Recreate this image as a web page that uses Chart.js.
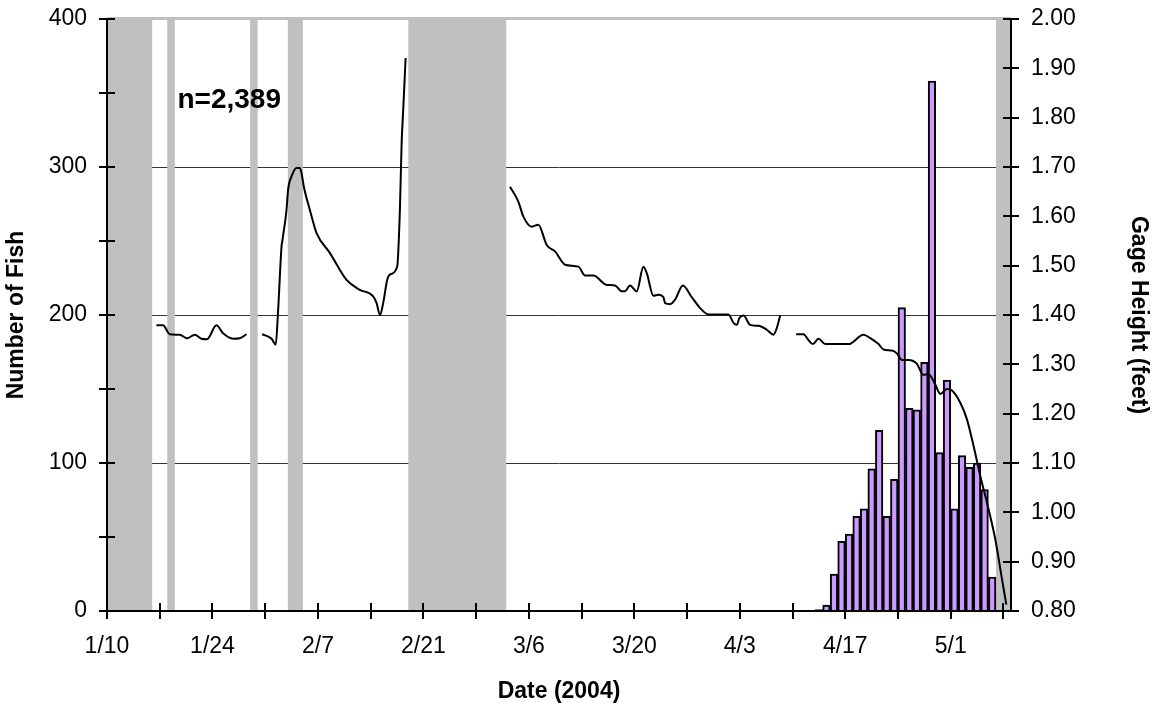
<!DOCTYPE html>
<html>
<head>
<meta charset="utf-8">
<script src="https://cdn.jsdelivr.net/npm/chart.js@4.4.1/dist/chart.umd.min.js"></script>
<style>
  html, body { margin: 0; padding: 0; background: #fff; }
  #wrap { width: 1154px; height: 707px; position: relative; }
</style>
</head>
<body>
<div id="wrap"><canvas id="fishChart"></canvas></div>
<script>
// daily fish counts (left axis)
const fishDates = ['4/13', '4/14', '4/15', '4/16', '4/17', '4/18', '4/19', '4/20', '4/21', '4/22', '4/23', '4/24',
                   '4/25', '4/26', '4/27', '4/28', '4/29', '4/30', '5/1', '5/2', '5/3', '5/4', '5/5', '5/6'];
const fishCounts = [1, 4, 25, 47, 52, 64, 69, 96, 122, 64, 89, 205,
                    137, 136, 168, 358, 107, 156, 69, 105, 97, 100, 82, 23];

// gage height readings (right axis), time in days after 1/10, null = no record
const gageDay = [
  6.56, 7.44, 8.33, 9.66, 10.63, 11.65, 12.54, 13.28, 14.53, 15.41, 16.74, 17.63, 18.52, 19.5,
  20.59, 21.84, 22.4, 22.72, 23.17, 23.3, 23.83, 24.04, 24.5, 25.16, 25.6, 25.82, 26.13, 26.93, 27.82,
  29.58, 31.8, 33.57, 35.33, 35.79, 36.23, 36.66, 37.19, 37.55, 38.52, 38.88, 39.11, 39.32, 39.64, 45,
  53.49, 54.6, 55.26, 56.38, 57.25, 58.37, 59.47, 60.8, 62.57, 63.46, 64.56, 66.34, 67.44, 68.33,
  68.77, 69.43, 70.32, 71.2, 71.65, 72.53, 73.19, 73.86, 74.08, 74.75, 75.41, 76.44, 77.63, 78.73,
  79.84, 82.49, 83.16, 83.61, 83.95, 84.49, 85.38, 86.48, 87.59, 88.47, 88.92, 89.36, 90.5,
  91.48, 92.46, 93.12, 93.7, 94.45, 95.34, 98.43, 100.43, 101.32, 102.42, 103.08, 104.2, 104.86,
  105.53, 106.4, 107.52, 108.32, 109.06, 109.95, 110.62, 111.5, 112.17, 113.27, 114.16, 115.04,
  115.93, 117.03, 117.92, 118.81, 119.38
];
const gageFt = [
  1.379, 1.379, 1.361, 1.360, 1.353, 1.360, 1.352, 1.351, 1.379, 1.363, 1.352, 1.353, 1.361, null,
  1.361, 1.352, 1.340, 1.411, 1.539, 1.553, 1.613, 1.654, 1.681, 1.698, 1.698, 1.688, 1.660, 1.613, 1.566,
  1.526, 1.471, 1.451, 1.438, 1.424, 1.400, 1.424, 1.471, 1.482, 1.498, 1.613, 1.748, 1.816, 1.921, null,
  1.660, 1.630, 1.600, 1.579, 1.583, 1.542, 1.529, 1.502, 1.498, 1.480, 1.480, 1.461, 1.460, 1.448,
  1.448, 1.460, 1.448, 1.498, 1.485, 1.439, 1.441, 1.436, 1.424, 1.422, 1.431, 1.460, 1.436, 1.414,
  1.401, 1.401, 1.384, 1.380, 1.394, 1.399, 1.380, 1.378, 1.370, 1.360, 1.374, 1.399, null,
  1.361, 1.361, 1.349, 1.341, 1.352, 1.341, 1.341, 1.360, 1.353, 1.341, 1.330, 1.328, 1.322,
  1.309, 1.309, 1.301, 1.279, 1.280, 1.259, 1.240, 1.250, 1.247, 1.222, 1.188, 1.134,
  1.073, 1.006, 0.945, 0.864, 0.813
];

// days without gage data (shaded), first and last date of each
const gapStart = ['1/10', '1/18', '1/29', '2/3', '2/19', '5/7'];
const gapEnd   = ['1/15', '1/18', '1/29', '2/4', '3/2', '5/8'];

const noteText = 'n=2,389';

const DAY = 86400000;
const origin = Date.UTC(2004, 0, 10);
function dayOf(md) {
  const [m, d] = md.split('/').map(Number);
  return (Date.UTC(2004, m - 1, d) - origin) / DAY;
}
function dateLabel(v) {
  const dt = new Date(origin + v * DAY);
  return (dt.getUTCMonth() + 1) + '/' + dt.getUTCDate();
}

const decor = {
  id: 'decor',
  beforeDatasetsDraw(chart) {
    const { ctx, chartArea: a, scales: { x } } = chart;
    ctx.save();
    ctx.fillStyle = '#c0c0c0';
    gapStart.forEach((s, i) => {
      const x0 = x.getPixelForValue(dayOf(s));
      const x1 = x.getPixelForValue(dayOf(gapEnd[i]) + 1);
      ctx.fillRect(x0, a.top, x1 - x0, a.bottom - a.top);
    });
    ctx.fillRect(a.left, a.top - 2, a.right - a.left, 3);
    ctx.restore();
  },
  afterDraw(chart) {
    const { ctx, chartArea: a, scales: { x, y, y1 } } = chart;
    ctx.save();
    ctx.strokeStyle = '#000';
    ctx.lineWidth = 2;
    ctx.beginPath();
    x.ticks.forEach(t => {
      const px = Math.round(x.getPixelForValue(t.value));
      ctx.moveTo(px, a.bottom - 8); ctx.lineTo(px, a.bottom + 8);
    });
    y.ticks.forEach(t => {
      const py = Math.round(y.getPixelForValue(t.value));
      ctx.moveTo(a.left - 8, py); ctx.lineTo(a.left + 8, py);
    });
    y1.ticks.forEach(t => {
      const py = Math.round(y1.getPixelForValue(t.value));
      ctx.moveTo(a.right - 8, py); ctx.lineTo(a.right + 8, py);
    });
    ctx.stroke();
    ctx.fillStyle = '#000';
    ctx.font = 'bold 28px "Liberation Sans", Arial, sans-serif';
    ctx.textBaseline = 'alphabetic';
    ctx.fillText(noteText, x.getPixelForValue(9.35), y.getPixelForValue(340));
    ctx.restore();
  }
};

Chart.defaults.font.family = '"Liberation Sans", Arial, sans-serif';
Chart.defaults.color = '#000';

new Chart(document.getElementById('fishChart'), {
  type: 'bar',
  data: {
    datasets: [
      {
        type: 'line',
        label: 'Gage Height',
        data: gageDay.map((d, i) => ({ x: d, y: gageFt[i] })),
        yAxisID: 'y1',
        borderColor: '#000',
        borderWidth: 2,
        pointRadius: 0,
        cubicInterpolationMode: 'monotone',
        spanGaps: false,
        order: 0
      },
      {
        type: 'bar',
        label: 'Number of Fish',
        data: fishDates.map((d, i) => ({ x: dayOf(d) + 0.5, y: fishCounts[i] })),
        yAxisID: 'y',
        backgroundColor: '#cc99ff',
        borderColor: '#000',
        borderWidth: 2,
        barPercentage: 1,
        categoryPercentage: 1,
        order: 1
      }
    ]
  },
  options: {
    responsive: true,
    maintainAspectRatio: false,
    animation: false,
    layout: { padding: { top: 19, left: 0, right: 0, bottom: 0 } },
    plugins: {
      legend: { display: false },
      tooltip: { enabled: false }
    },
    scales: {
      x: {
        type: 'linear',
        min: 0,
        max: 120,
        offset: false,
        afterBuildTicks: (s) => {
          const t = [];
          for (let v = 0; v <= 119; v += 7) t.push({ value: v });
          s.ticks = t;
        },
        afterFit: (s) => { s.height = 96; },
        ticks: {
          autoSkip: false,
          maxRotation: 0,
          padding: 22,
          font: { size: 23 },
          callback: (v, i) => (i % 2 === 0 ? dateLabel(v) : '')
        },
        grid: { display: false, drawTicks: false },
        border: { display: true, color: '#000', width: 2, z: 1 },
        title: {
          display: true,
          text: 'Date (2004)',
          font: { size: 23, weight: 'bold' },
          padding: { top: 0, bottom: 2 }
        }
      },
      y: {
        position: 'left',
        min: 0,
        max: 400,
        afterBuildTicks: (s) => {
          const t = [];
          for (let v = 0; v <= 400; v += 50) t.push({ value: v });
          s.ticks = t;
        },
        afterFit: (s) => { s.width = 107; s.paddingTop = 0; s.paddingBottom = 0; },
        ticks: {
          padding: 20,
          font: { size: 23 },
          callback: (v) => (v % 100 === 0 ? String(v) : '')
        },
        grid: {
          drawTicks: false,
          lineWidth: 1,
          color: (c) => (c.tick && c.tick.value % 100 === 0 && c.tick.value > 0 && c.tick.value < 400 ? '#333' : 'transparent')
        },
        border: { display: true, color: '#000', width: 2, z: 1 },
        title: {
          display: true,
          text: 'Number of Fish',
          font: { size: 23, weight: 'bold' },
          padding: { top: 3, bottom: 0 }
        }
      },
      y1: {
        position: 'right',
        min: 0.8,
        max: 2.0,
        afterFit: (s) => { s.width = 143; s.paddingTop = 0; s.paddingBottom = 0; },
        ticks: {
          stepSize: 0.1,
          padding: 20,
          font: { size: 23 },
          callback: (v) => Number(v).toFixed(2)
        },
        grid: { display: false, drawTicks: false },
        border: { display: true, color: '#000', width: 2, z: 1 },
        title: {
          display: true,
          text: 'Gage Height (feet)',
          font: { size: 23, weight: 'bold' },
          padding: { top: 2, bottom: 0 }
        }
      }
    }
  },
  plugins: [decor]
});
</script>
</body>
</html>
